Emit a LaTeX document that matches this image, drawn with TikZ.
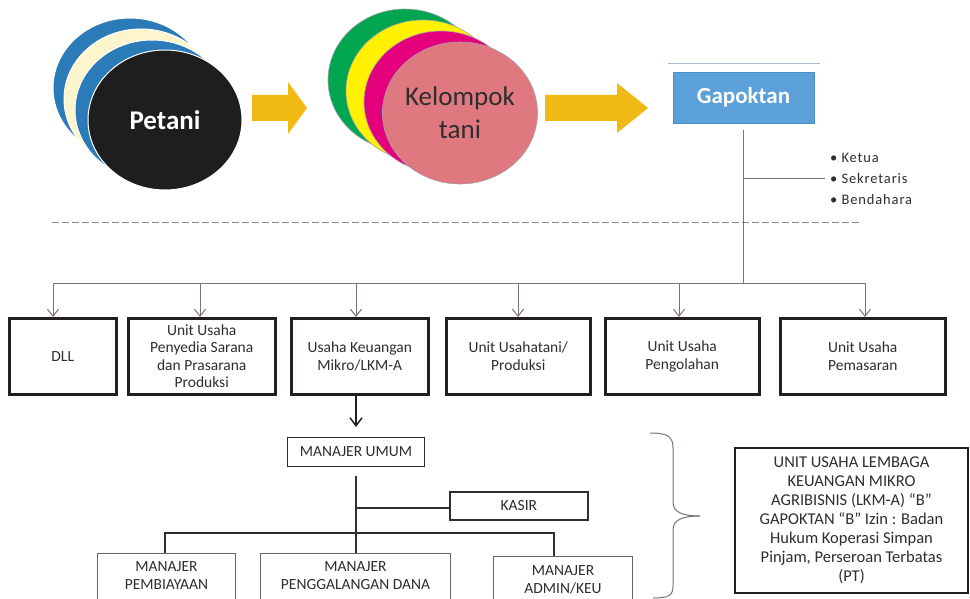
\documentclass[tikz,border=0pt]{standalone}
\usepackage{fontspec}
\setmainfont{Carlito}
\newfontfamily\spacedfont[LetterSpace=6]{Carlito}
\usetikzlibrary{arrows.meta,shapes.geometric}
\definecolor{petblue}{HTML}{2B7BB9}
\definecolor{cream}{HTML}{FFF5CC}
\definecolor{petblack}{HTML}{1E1E1E}
\definecolor{kgreen}{HTML}{00A550}
\definecolor{kyellow}{HTML}{FFF100}
\definecolor{kmag}{HTML}{E4007C}
\definecolor{kpink}{HTML}{E07880}
\definecolor{arrowyel}{HTML}{F0B914}
\definecolor{gapblue}{HTML}{5BA0D8}
\definecolor{gapedge}{HTML}{4A8CC4}
\definecolor{topline}{HTML}{A8BCCF}
\definecolor{lgray}{HTML}{7B7373}
\definecolor{dashc}{HTML}{8A8A8A}
\definecolor{boxc}{HTML}{231F20}
\definecolor{txt}{HTML}{2E2E2E}
\begin{document}
\begin{tikzpicture}[x=1pt,y=-1pt,
  pet/.style={ellipse, minimum width=154pt, minimum height=140pt, draw=white, line width=1pt, inner sep=0},
  kel/.style={ellipse, minimum width=154pt, minimum height=142pt, draw=gray!70, line width=0.6pt, inner sep=0},
  yarrow/.style={fill=arrowyel, draw=none},
  topbox/.style={draw=boxc, line width=2.5pt, minimum height=76pt, anchor=north west, align=center, inner sep=2pt, text=txt, font=\fontsize{15.5}{17.5}\selectfont},
  gline/.style={draw=lgray, line width=1pt},
  garr/.style={draw=lgray, line width=1pt, -{Straight Barb[length=7pt,width=11pt]}},
  dline/.style={draw=txt, line width=1.6pt},
  smallbox/.style={anchor=north west, inner sep=0, align=center, text=txt, font=\fontsize{15.5}{18}\selectfont},
  bottxt/.style={inner sep=0, align=center, text=txt, font=\fontsize{15.5}{18}\selectfont}
]
\clip (0,0) rectangle (970,599);
\fill[white] (0,0) rectangle (970,599);

% Petani stack
\node[pet, fill=petblue] (p1) at (130,88) {};
\node[pet, fill=cream] (p2) at (141,99) {};
\node[pet, fill=petblue] (p3) at (152,110) {};
\node[pet, fill=petblack, text=white, font=\fontsize{27}{30}\selectfont\bfseries] (pet) at (165,120) {Petani};

% arrow 1
\fill[yarrow] (252,95) -- (288,95) -- (288,82) -- (307,108) -- (288,134) -- (288,121) -- (252,121) -- cycle;

% Kelompok stack
\node[kel, fill=kgreen] (k1) at (405,80) {};
\node[kel, fill=kyellow] (k2) at (423,91) {};
\node[kel, fill=kmag] (k3) at (441,102) {};
\node[kel, fill=kpink, text=txt, align=center, font=\fontsize{27}{33}\selectfont] (kel) at (460,113) {Kelompok\\tani};

% arrow 2
\fill[yarrow] (545,95) -- (617,95) -- (617,83) -- (648,108) -- (617,133) -- (617,121) -- (545,121) -- cycle;

% Gapoktan
\coordinate (tl1) at (668,64);
\coordinate (tl2) at (820,64);
\draw[topline, line width=1pt] (tl1) -- (tl2);
\node[fill=gapblue, draw=gapedge, line width=0.8pt, minimum width=141pt, minimum height=51pt, inner sep=0, text=white, font=\fontsize{23}{26}\selectfont\bfseries] (gap) at (743.5,97.5) {Gapoktan};

% bullets
\node[anchor=west, align=left, inner sep=0, text=txt, font=\spacedfont\fontsize{14.5}{21}\selectfont] (bul) at (830,179) {• Ketua\\• Sekretaris\\• Bendahara};

% dashed line
\coordinate (dL) at (52,223);
\coordinate (dR) at (860,223);
\draw[dashc, line width=1pt, dash pattern=on 7pt off 3pt] (dL) -- (dR);

% bar
\coordinate (barL) at (53,283);
\coordinate (barR) at (865,283);
\draw[gline, shorten <=7pt] (gap.south) -- (gap.south |- barL);
\draw[gline, shorten >=5pt] (gap.south |- bul.west) -- (bul.west);
\draw[gline] (barL) -- (barR);

% top boxes
\node[topbox, minimum width=107pt] (dll) at (8,317) {DLL};
\node[topbox, minimum width=147pt] (pny) at (127,317) {Unit Usaha\\Penyedia Sarana\\dan Prasarana\\Produksi};
\node[topbox, minimum width=137pt] (keu) at (290,317) {Usaha Keuangan\\Mikro/LKM-A};
\node[topbox, minimum width=144pt] (ust) at (445,317) {Unit Usahatani/\\Produksi};
\node[topbox, minimum width=154pt] (pgl) at (604,317) {Unit Usaha\\Pengolahan};
\node[topbox, minimum width=165pt] (pms) at (779,317) {Unit Usaha\\Pemasaran};

\coordinate (b1) at (53,283);
\coordinate (b2) at (200,283);
\coordinate (b3) at (356,283);
\coordinate (b4) at (518,283);
\coordinate (b5) at (679,283);
\coordinate (b6) at (865,283);
\draw[garr] (b1) -- (b1 |- dll.north);
\draw[garr] (b2) -- (b2 |- pny.north);
\draw[garr] (b3) -- (b3 |- keu.north);
\draw[garr] (b4) -- (b4 |- ust.north);
\draw[garr] (b5) -- (b5 |- pgl.north);
\draw[garr] (b6) -- (b6 |- pms.north);

% bottom org chart
\node[smallbox, draw=txt, line width=1pt, minimum width=137pt, minimum height=29pt] (mu) at (287,437) {MANAJER UMUM};
\node[smallbox, draw=txt, line width=1.8pt, minimum width=138pt, minimum height=28pt] (ks) at (449,491) {KASIR};
\node[smallbox, draw=gray!80!black, line width=1pt, minimum width=138pt, minimum height=70pt] (mp) at (97,553) {};
\node[smallbox, draw=gray!80!black, line width=1pt, minimum width=190pt, minimum height=70pt] (mg) at (260,553) {};
\node[smallbox, draw=gray!80!black, line width=1pt, minimum width=139pt, minimum height=70pt] (ma) at (493,556) {};
\node[bottxt] (mpt) at (mp.north |- 0,576) {MANAJER\\PEMBIAYAAN};
\node[bottxt] (mgt) at (mg.north |- 0,576) {MANAJER\\PENGGALANGAN DANA};
\node[bottxt] (mat) at (ma.north |- 0,580) {MANAJER\\ADMIN/KEU};

\draw[draw=boxc, line width=1.5pt, shorten >=10pt, -{Straight Barb[length=8pt,width=12pt]}] (mu.north |- keu.south) -- (mu.north);

\coordinate (kj) at (355,508);
\coordinate (bj) at (355,533);
\coordinate (bl) at (165,533);
\coordinate (br) at (554,533);
\draw[dline, shorten <=9pt] (mu.south) -- (mu.south |- mg.north);
\draw[dline] (kj) -- (ks.west |- kj);
\draw[dline] (bl |- mp.north) -- (bl) -- (br) -- (br |- ma.north);

% brace
\coordinate (brT) at (650,433);
\coordinate (brM) at (700,516);
\coordinate (brB) at (653,598);
\draw[lgray, line width=1pt] (brT) .. controls (667,433) and (673,436) .. (673,448) -- (673,502) .. controls (673,512) and (682,516) .. (brM);
\draw[lgray, line width=1pt] (brM) .. controls (682,516) and (673,520) .. (673,530) -- (673,586) .. controls (673,596) and (668,598) .. (brB);

% info box
\node[draw=boxc, line width=2.5pt, minimum width=233pt, minimum height=145pt, inner sep=0, align=center, text=txt, font=\fontsize{16.5}{19}\selectfont] (ib) at (851.5,520.5) {UNIT USAHA LEMBAGA\\KEUANGAN MIKRO\\AGRIBISNIS (LKM-A) “B”\\GAPOKTAN “B” Izin : Badan\\Hukum Koperasi Simpan\\Pinjam, Perseroan Terbatas\\(PT)};
\end{tikzpicture}
\end{document}
